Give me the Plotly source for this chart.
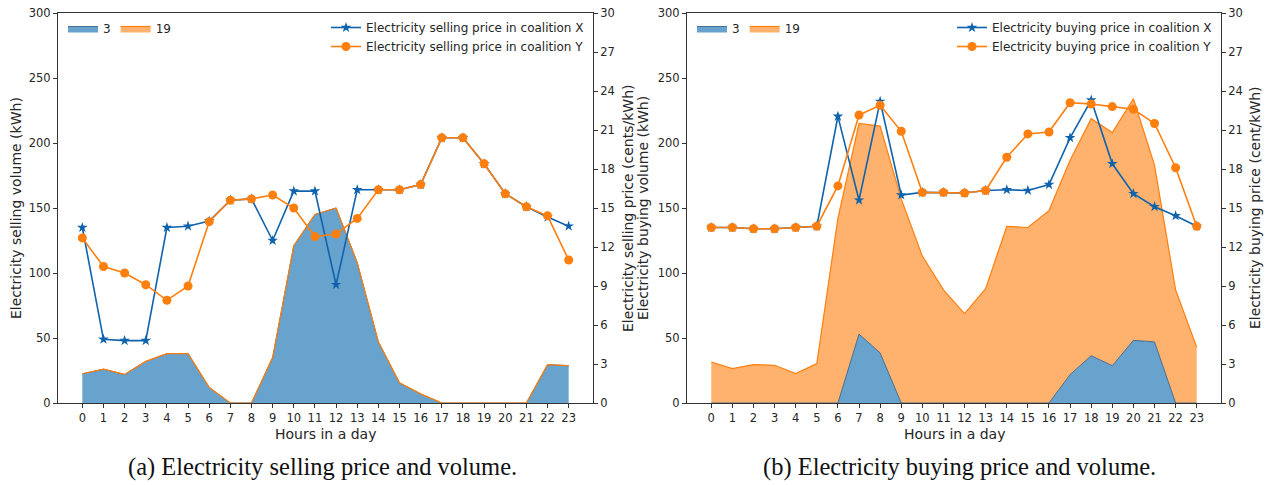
import plotly.graph_objects as go

hours = list(range(24))
hour_labels = [str(h) for h in hours]

# (a) selling
sell_vol_3 = [22.5, 26, 22, 32, 38, 38, 12, 0, 0, 35, 121, 145, 150, 108, 47, 15.5, 7, 0, 0, 0, 0, 0, 29.5, 28.7]
sell_vol_19 = [0] * 24
sell_price_x = [13.5, 4.9, 4.8, 4.8, 13.5, 13.6, 14.0, 15.6, 15.7, 12.5, 16.3, 16.3, 9.1, 16.4, 16.4, 16.4, 16.8, 20.4, 20.4, 18.4, 16.1, 15.1, 14.3, 13.6]
sell_price_y = [12.7, 10.5, 10.0, 9.1, 7.9, 9.0, 13.95, 15.6, 15.7, 16.0, 15.0, 12.8, 13.0, 14.2, 16.4, 16.4, 16.8, 20.4, 20.4, 18.4, 16.1, 15.1, 14.4, 11.0]

# (b) buying
buy_vol_3 = [0, 0, 0, 0, 0, 0, 0, 53, 38.5, 0, 0, 0, 0, 0, 0, 0, 0, 21.8, 36.4, 28.7, 48.2, 47, 0, 0]
buy_vol_19 = [31.5, 26.4, 29.5, 29, 22.6, 30.3, 142, 162, 174.5, 157, 113, 87, 68.7, 88, 135.9, 135, 148, 165, 182.3, 179.3, 185.8, 136, 87, 43]
buy_price_x = [13.5, 13.5, 13.4, 13.4, 13.5, 13.6, 22.05, 15.6, 23.2, 16.0, 16.2, 16.2, 16.15, 16.35, 16.4, 16.35, 16.8, 20.4, 23.3, 18.4, 16.1, 15.1, 14.4, 13.6]
buy_price_y = [13.5, 13.5, 13.4, 13.4, 13.5, 13.6, 16.7, 22.15, 22.9, 20.9, 16.2, 16.2, 16.15, 16.35, 18.9, 20.7, 20.85, 23.1, 23.0, 22.8, 22.6, 21.5, 18.1, 13.6]

W, H = 1266, 485
BLUE_FILL = "rgba(31,119,180,0.68)"
BLUE_EDGE = "rgba(60,100,140,0.9)"
ORANGE_FILL = "rgba(255,127,14,0.6)"
ORANGE_EDGE = "#ff7f0e"
LINE_BLUE = "#0f63ad"
LINE_ORANGE = "#ff7f0e"
FONT = "DejaVu Sans"
TXT = "#262626"

fig = go.Figure()

def add_panel(n, vol3, vol19, px, py, kind, xa, ya, ya2, leg_area, leg_line):
    fig.add_trace(go.Scatter(x=hours, y=vol3, name="3", mode="lines", stackgroup="s%d" % n,
                             line=dict(color=BLUE_EDGE, width=1), fillcolor=BLUE_FILL,
                             xaxis=xa, yaxis=ya, legend=leg_area))
    fig.add_trace(go.Scatter(x=hours, y=vol19, name="19", mode="lines", stackgroup="s%d" % n,
                             line=dict(color=ORANGE_EDGE, width=1.2), fillcolor=ORANGE_FILL,
                             xaxis=xa, yaxis=ya, legend=leg_area))
    fig.add_trace(go.Scatter(x=hours, y=px, name="Electricity %s price in coalition X" % kind,
                             mode="lines+markers", line=dict(color=LINE_BLUE, width=1.6),
                             marker=dict(symbol="star", size=8, color=LINE_BLUE),
                             xaxis=xa, yaxis=ya2, legend=leg_line))
    fig.add_trace(go.Scatter(x=hours, y=py, name="Electricity %s price in coalition Y" % kind,
                             mode="lines+markers", line=dict(color=LINE_ORANGE, width=1.6),
                             marker=dict(symbol="circle", size=9, color=LINE_ORANGE),
                             xaxis=xa, yaxis=ya2, legend=leg_line))

add_panel(1, sell_vol_3, sell_vol_19, sell_price_x, sell_price_y, "selling", "x", "y", "y2", "legend", "legend2")
add_panel(2, buy_vol_3, buy_vol_19, buy_price_x, buy_price_y, "buying", "x2", "y3", "y4", "legend3", "legend4")

def px2x(p):
    return p / W

def px2y(p):
    return 1 - p / H

ydom = [px2y(403), px2y(13)]
axis_common = dict(showline=True, linecolor="#333", linewidth=1, ticks="outside", ticklen=4,
                   tickcolor="#333", showgrid=False, zeroline=False, automargin=False,
                   tickfont=dict(family=FONT, size=11.5, color=TXT))

xcommon = dict(axis_common, tickmode="array", tickvals=hours, ticktext=hour_labels,
               range=[-1.15, 24.15], mirror=True)

leg_common = dict(font=dict(family=FONT, size=12, color=TXT), bgcolor="rgba(255,255,255,0)",
                  yanchor="top")

fig.update_layout(
    width=W, height=H, margin=dict(l=0, r=0, t=0, b=0, autoexpand=False),
    paper_bgcolor="white", plot_bgcolor="white",
    font=dict(family=FONT, color=TXT),
    xaxis=dict(xcommon, domain=[px2x(58), px2x(593)], anchor="y"),
    xaxis2=dict(xcommon, domain=[px2x(687), px2x(1221)], anchor="y3"),
    yaxis=dict(axis_common, domain=ydom, range=[0, 300], tickvals=list(range(0, 301, 50)), anchor="x"),
    yaxis2=dict(axis_common, range=[0, 30], tickvals=list(range(0, 31, 3)), overlaying="y",
                side="right", anchor="x"),
    yaxis3=dict(axis_common, domain=ydom, range=[0, 300], tickvals=list(range(0, 301, 50)), anchor="x2"),
    yaxis4=dict(axis_common, range=[0, 30], tickvals=list(range(0, 31, 3)), overlaying="y3",
                side="right", anchor="x2"),
    legend=dict(leg_common, x=px2x(63), y=px2y(14), xanchor="left", orientation="h",
                traceorder="normal", itemwidth=30),
    legend2=dict(leg_common, x=px2x(589), y=px2y(13), xanchor="right", itemwidth=30),
    legend3=dict(leg_common, x=px2x(692), y=px2y(14), xanchor="left", orientation="h",
                 traceorder="normal", itemwidth=30),
    legend4=dict(leg_common, x=px2x(1217), y=px2y(13), xanchor="right", itemwidth=30),
)

ann_font = dict(family=FONT, size=14, color=TXT)
annotations = [
    dict(text="Electricity selling volume (kWh)", x=px2x(16), y=px2y(208), textangle=-90),
    dict(text="Electricity selling price (cents/kWh)", x=px2x(628), y=px2y(208), textangle=-90),
    dict(text="Electricity buying volume (kWh)", x=px2x(643), y=px2y(208), textangle=-90),
    dict(text="Electricity buying price (cent/kWh)", x=px2x(1255), y=px2y(208), textangle=-90),
    dict(text="Hours in a day", x=px2x(325.5), y=px2y(434), textangle=0),
    dict(text="Hours in a day", x=px2x(954), y=px2y(434), textangle=0),
]
for a in annotations:
    fig.add_annotation(xref="paper", yref="paper", xanchor="center", yanchor="middle",
                       showarrow=False, font=ann_font, **a)

cap_font = dict(family="Liberation Serif", size=24.5, color="#111")
fig.add_annotation(text="(a) Electricity selling price and volume.", x=px2x(322), y=px2y(467),
                   xref="paper", yref="paper", xanchor="center", yanchor="middle",
                   showarrow=False, font=cap_font)
fig.add_annotation(text="(b) Electricity buying price and volume.", x=px2x(960), y=px2y(467),
                   xref="paper", yref="paper", xanchor="center", yanchor="middle",
                   showarrow=False, font=cap_font)

fig.write_html("out.html", config={"displayModeBar": False},
               post_script="document.body.style.margin='0';document.body.style.overflow='hidden';")
